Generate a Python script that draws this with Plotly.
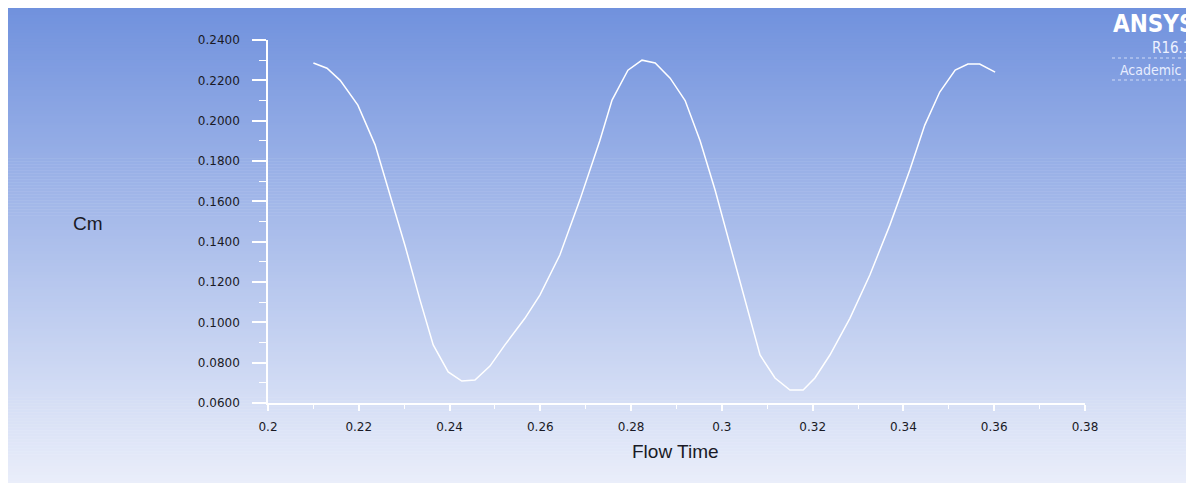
import plotly.graph_objects as go

# Data
flow_time = [0.2100, 0.2130, 0.2159, 0.2198, 0.2236, 0.2269, 0.2302, 0.2335, 0.2364, 0.2397,
             0.2427, 0.2456, 0.2489, 0.2522, 0.2566, 0.2599, 0.2643, 0.2687, 0.2731, 0.2758,
             0.2793, 0.2824, 0.2853, 0.2886, 0.2919, 0.2952, 0.2985, 0.3018, 0.3051, 0.3084,
             0.3117, 0.3150, 0.3179, 0.3205, 0.3238, 0.3282, 0.3326, 0.3370, 0.3414, 0.3447,
             0.3480, 0.3514, 0.3542, 0.3568, 0.3602]
cm = [0.2286, 0.2260, 0.2200, 0.2077, 0.1880, 0.1630, 0.1380, 0.1110, 0.0888, 0.0754,
      0.0709, 0.0714, 0.0783, 0.0888, 0.1020, 0.1135, 0.1334, 0.1606, 0.1900, 0.2102,
      0.2250, 0.2300, 0.2286, 0.2211, 0.2100, 0.1900, 0.1656, 0.1383, 0.1110, 0.0838,
      0.0724, 0.0664, 0.0664, 0.0724, 0.0838, 0.1020, 0.1235, 0.1482, 0.1755, 0.1978,
      0.2142, 0.2251, 0.2281, 0.2281, 0.2241]
x_ticks = [0.2, 0.22, 0.24, 0.26, 0.28, 0.3, 0.32, 0.34, 0.36, 0.38]
x_labels = ["0.2", "0.22", "0.24", "0.26", "0.28", "0.3", "0.32", "0.34", "0.36", "0.38"]
y_ticks = [0.06, 0.08, 0.10, 0.12, 0.14, 0.16, 0.18, 0.20, 0.22, 0.24]
y_labels = ["0.0600", "0.0800", "0.1000", "0.1200", "0.1400", "0.1600", "0.1800", "0.2000", "0.2200", "0.2400"]

# page body has an 8px margin; work in reference pixel coords and shift
OFF = 8
W, H = 1194 - OFF, 483 - OFF
L, R, T, B = 268 - OFF, 1085 - OFF, 40 - OFF, 403 - OFF
pw, ph = R - L, B - T

def px_x(px):  # reference pixel -> paper
    return (px - OFF - L) / pw

def px_y(py):
    return (B - (py - OFF)) / ph

fig = go.Figure()
fig.add_trace(go.Scatter(x=flow_time, y=cm, mode="lines",
                         line=dict(color="white", width=1.5), hoverinfo="skip"))

shapes = []
top_c = (112, 145, 221)
bot_c = (234, 238, 250)
n = 160
y_start, y_end = 6, 484
for i in range(n):
    a = y_start + (y_end - y_start) * i / n
    b = y_start + (y_end - y_start) * (i + 1) / n
    t = (i + 0.5) / n
    c = tuple(round(top_c[k] + (bot_c[k] - top_c[k]) * t) for k in range(3))
    shapes.append(dict(type="rect", xref="paper", yref="paper", layer="below",
                       x0=px_x(0), x1=px_x(1200), y0=px_y(b + 0.5), y1=px_y(a),
                       line=dict(width=0), fillcolor="rgb(%d,%d,%d)" % c))
# logo lines
for yy in (58, 80):
    shapes.append(dict(type="line", xref="paper", yref="paper",
                       x0=px_x(1112), x1=px_x(1200), y0=px_y(yy), y1=px_y(yy),
                       line=dict(color="rgba(235,240,255,0.75)", width=1, dash="dot")))

txt = "#1a1a26"
annotations = [
    dict(text="Cm", x=px_x(88), y=px_y(223.5), xref="paper", yref="paper", showarrow=False,
         xanchor="center", yanchor="middle",
         font=dict(size=19, color=txt, family="Liberation Sans, Arial")),
    dict(text="Flow Time", x=px_x(675.5), y=px_y(452), xref="paper", yref="paper", showarrow=False,
         xanchor="center", yanchor="middle",
         font=dict(size=19, color=txt, family="Liberation Sans, Arial")),
    dict(text="<b>ANSYS</b>", x=px_x(1111), y=px_y(24), xref="paper", yref="paper", showarrow=False,
         xanchor="left", yanchor="middle",
         font=dict(size=24, color="white", family="DejaVu Sans Condensed, DejaVu Sans")),
    dict(text="R16.1", x=px_x(1150), y=px_y(47.5), xref="paper", yref="paper", showarrow=False,
         xanchor="left", yanchor="middle",
         font=dict(size=15, color="#eef2ff", family="DejaVu Sans Condensed, DejaVu Sans")),
    dict(text="Academic", x=px_x(1118), y=px_y(69.5), xref="paper", yref="paper", showarrow=False,
         xanchor="left", yanchor="middle",
         font=dict(size=14, color="#e8eeff", family="DejaVu Sans Condensed, DejaVu Sans")),
]

tickfont = dict(size=12, color=txt, family="DejaVu Sans")
fig.update_layout(
    width=W, height=H,
    margin=dict(l=L, r=W - R, t=T, b=H - B, pad=0),
    paper_bgcolor="white", plot_bgcolor="rgba(0,0,0,0)",
    showlegend=False, shapes=shapes, annotations=annotations,
    xaxis=dict(range=[0.2, 0.38], tickvals=x_ticks, ticktext=x_labels,
               showgrid=False, zeroline=False, showline=True, linecolor="white", linewidth=1.5,
               ticks="outside", ticklen=6, tickcolor="white", tickwidth=1.5,
               ticklabelstandoff=6,
               minor=dict(dtick=0.01, tick0=0.2, ticks="outside", ticklen=4, tickcolor="white", tickwidth=1),
               tickfont=tickfont),
    yaxis=dict(range=[0.06, 0.24], tickvals=y_ticks, ticktext=y_labels,
               showgrid=False, zeroline=False, showline=True, linecolor="white", linewidth=1.5,
               ticks="outside", ticklen=14, tickcolor="white", tickwidth=1.5,
               ticklabelstandoff=10,
               minor=dict(dtick=0.01, tick0=0.06, ticks="outside", ticklen=7, tickcolor="white", tickwidth=1),
               tickfont=tickfont),
)

fig.write_html("out.html")
